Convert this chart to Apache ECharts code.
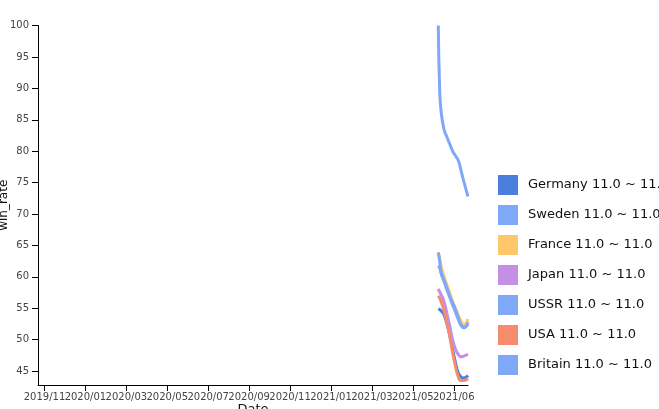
<!DOCTYPE html>
<html>
<head>
<meta charset="utf-8">
<script src="https://cdn.jsdelivr.net/npm/echarts@6/dist/echarts.min.js"></script>
<style>html,body{margin:0;padding:0;background:#fff;}#chart{width:659px;height:409px;}</style>
</head>
<body>
<div id="chart"></div>
<script>
// Dates of observations (UTC)
const dates = ['2021-06-08','2021-06-10','2021-06-12','2021-06-16','2021-06-20','2021-06-24','2021-06-28','2021-07-02','2021-07-06','2021-07-10','2021-07-14','2021-07-20'];
// Axis domain (data extent)
const xDomain = ['2019-11-20', '2021-07-20'];
const yDomain = [42.8, 100];

const seriesNames = ['Germany 11.0 ~ 11.0','Sweden 11.0 ~ 11.0','France 11.0 ~ 11.0','Japan 11.0 ~ 11.0','USSR 11.0 ~ 11.0','USA 11.0 ~ 11.0','Britain 11.0 ~ 11.0'];
const seriesColors = ['#4a7fdc','#80a8f8','#fec86a','#c390e6','#80a8f8','#f58c6c','#80a8f8'];

const germany = [54.9, 54.8, 54.6, 54.0, 52.6, 50.8, 48.6, 46.5, 44.8, 44.1, 43.9, 44.3];
const sweden  = [100, 89.5, 86.3, 83.5, 82.3, 81.2, 80.1, 79.3, 78.6, 77.0, 75.2, 72.8];
const france  = [63.9, 63.0, 61.7, 60.1, 58.8, 57.5, 56.2, 55.1, 54.0, 53.0, 52.4, 53.3];
const japan   = [58.1, 57.6, 57.2, 56.1, 54.3, 52.3, 50.1, 48.6, 47.7, 47.3, 47.4, 47.7];
const ussr    = [63.9, 62.5, 60.8, 59.5, 58.3, 57.0, 55.9, 54.9, 53.6, 52.4, 52.0, 52.4];
const usa     = [57.0, 56.6, 56.1, 54.7, 52.8, 50.7, 48.1, 45.9, 44.2, 43.5, 43.5, 43.8];
const britain = [61.8, 61.4, 60.5, 59.3, 58.0, 56.8, 55.6, 54.5, 53.3, 52.3, 51.9, 52.8];

const allValues = [germany, sweden, france, japan, ussr, usa, britain];

function ts(s) { const p = s.split('-').map(Number); return Date.UTC(p[0], p[1]-1, p[2]); }
const xs = dates.map(ts);

const FONT = '"DejaVu Sans", Verdana, sans-serif';

const chart = echarts.init(document.getElementById('chart'), null, {renderer: 'canvas'});
chart.setOption({
  animation: false,
  backgroundColor: '#fff',
  grid: { left: 38, right: 191, top: 25.5, bottom: 24, containLabel: false, outerBoundsMode: 'none' },
  legend: {
    orient: 'vertical',
    left: 498,
    top: 175,
    padding: 0,
    itemWidth: 20,
    itemHeight: 20,
    itemGap: 10,
    icon: 'rect',
    data: seriesNames,
    textStyle: { fontFamily: FONT, fontSize: 13, color: '#111', padding: [0, 0, 0, 5] }
  },
  xAxis: {
    type: 'value',
    min: ts(xDomain[0]),
    max: ts(xDomain[1]),
    splitNumber: 10,
    name: 'Date',
    nameLocation: 'middle',
    nameGap: 18,
    nameMoveOverlap: false,
    nameTextStyle: { fontFamily: FONT, fontSize: 13, color: '#111', verticalAlign: 'top' },
    axisLine: { show: true, onZero: false, lineStyle: { color: '#000', width: 1 } },
    axisTick: { show: true, length: 6, lineStyle: { color: '#000' } },
    axisLabel: {
      showMinLabel: false, showMaxLabel: false,
      margin: 7,
      fontFamily: FONT, fontSize: 10, color: '#444',
      formatter: function (v) {
        const d = new Date(v);
        const m = d.getUTCMonth() + 1;
        return d.getUTCFullYear() + '/' + (m < 10 ? '0' + m : m);
      }
    },
    splitLine: { show: false }
  },
  yAxis: {
    type: 'value',
    min: yDomain[0],
    max: yDomain[1],
    splitNumber: 11,
    name: 'win_rate',
    nameLocation: 'middle',
    nameGap: 28,
    nameMoveOverlap: false,
    nameTextStyle: { fontFamily: FONT, fontSize: 12, color: '#111' },
    axisLine: { show: true, onZero: false, lineStyle: { color: '#000', width: 1 } },
    axisTick: { show: true, length: 6, lineStyle: { color: '#000' } },
    axisLabel: { showMinLabel: false, margin: 9, fontFamily: FONT, fontSize: 10, color: '#444' },
    splitLine: { show: false }
  },
  series: seriesNames.map((name, i) => ({
    name: name,
    type: 'line',
    data: xs.map((x, j) => [x, allValues[i][j]]),
    smooth: 0.5,
    showSymbol: false,
    symbol: 'none',
    clip: true,
    color: seriesColors[i],
    lineStyle: { width: 3, color: seriesColors[i] }
  }))
});
</script>
</body>
</html>
